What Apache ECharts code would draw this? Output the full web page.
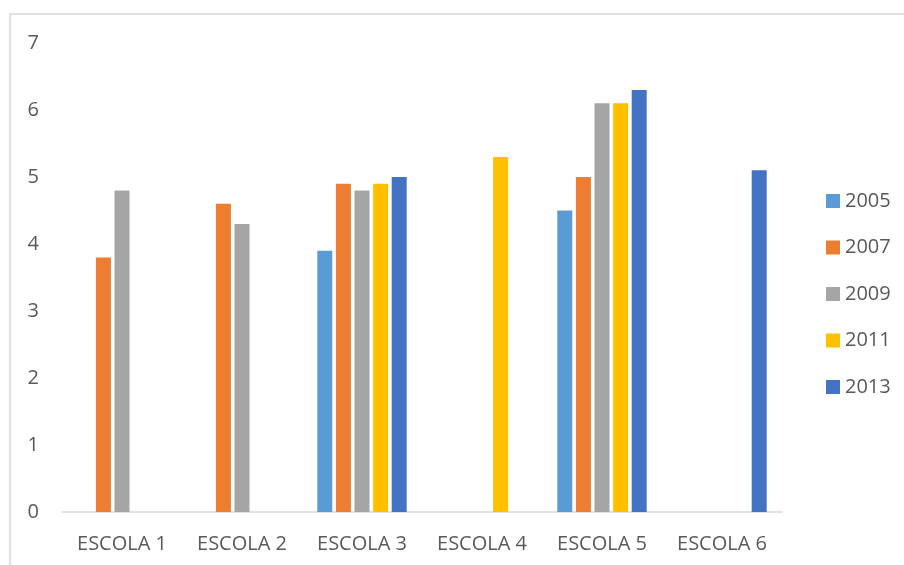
<!DOCTYPE html>
<html>
<head>
<meta charset="utf-8">
<script src="https://cdn.jsdelivr.net/npm/echarts@6/dist/echarts.min.js"></script>
<style>html,body{margin:0;padding:0;background:#fff;}#c{width:904px;height:565px;}</style>
</head>
<body>
<div id="c"></div>
<script>
const categories = ['ESCOLA 1', 'ESCOLA 2', 'ESCOLA 3', 'ESCOLA 4', 'ESCOLA 5', 'ESCOLA 6'];
const seriesNames = ['2005', '2007', '2009', '2011', '2013'];
const colors = ['#5B9BD5', '#ED7D31', '#A5A5A5', '#FFC000', '#4472C4'];
const v2005 = [null, null, 3.9, null, 4.5, null];
const v2007 = [3.8, 4.6, 4.9, null, 5.0, null];
const v2009 = [4.8, 4.3, 4.8, null, 6.1, null];
const v2011 = [null, null, 4.9, 5.3, 6.1, null];
const v2013 = [null, null, 5.0, null, 6.3, 5.1];
const yTicks = [0, 1, 2, 3, 4, 5, 6, 7];

const allValues = [v2005, v2007, v2009, v2011, v2013];
const font = '"Open Sans", sans-serif';
const textColor = '#595959';

const chart = echarts.init(document.getElementById('c'), null, {renderer: 'canvas'});
chart.setOption({
  animation: false,
  backgroundColor: '#fff',
  graphic: [{
    type: 'rect', silent: true,
    shape: {x: 10, y: 14, width: 1200, height: 1200},
    style: {fill: 'none', stroke: '#d9d9d9', lineWidth: 1.5}
  }],
  legend: {
    orient: 'vertical',
    left: 826,
    top: 191,
    padding: 0,
    itemWidth: 14,
    itemHeight: 14,
    itemGap: 26.5,
    icon: 'rect',
    data: seriesNames,
    textStyle: {fontFamily: font, fontSize: 20, color: textColor}
  },
  grid: {left: 62, right: 122, top: 43, bottom: 53, containLabel: false},
  xAxis: {
    type: 'category',
    data: categories,
    axisLine: {show: true, lineStyle: {color: '#d9d9d9', width: 1.5}},
    axisTick: {show: false},
    axisLabel: {fontFamily: font, fontSize: 20, color: textColor, margin: 22}
  },
  yAxis: {
    type: 'value',
    min: yTicks[0],
    max: yTicks[yTicks.length - 1],
    interval: 1,
    axisLine: {show: false},
    axisTick: {show: false},
    splitLine: {show: false},
    axisLabel: {fontFamily: font, fontSize: 20, color: textColor, margin: 23}
  },
  series: seriesNames.map((name, i) => ({
    name: name,
    type: 'bar',
    data: allValues[i],
    barWidth: 15,
    barGap: '24%',
    itemStyle: {color: colors[i]}
  }))
});
</script>
</body>
</html>
